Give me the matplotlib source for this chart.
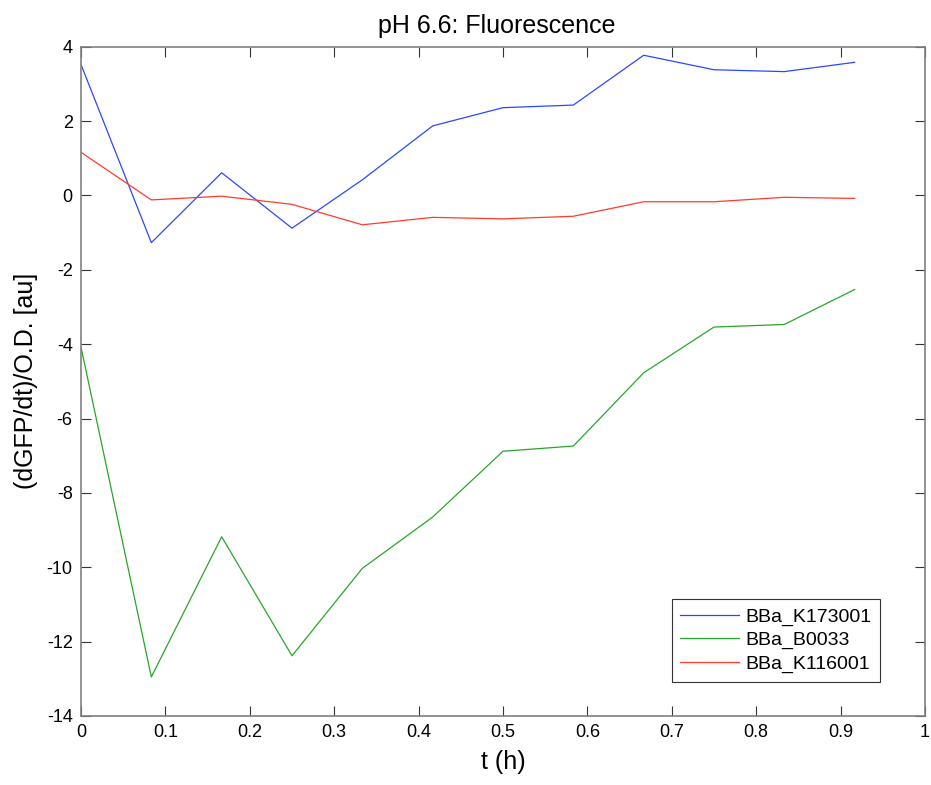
import numpy as np
import matplotlib
matplotlib.use("Agg")
import matplotlib.pyplot as plt

plt.rcParams['font.family'] = ['Liberation Sans', 'DejaVu Sans']
plt.rcParams['axes.unicode_minus'] = False

t = [0, 1/12, 2/12, 3/12, 4/12, 5/12, 6/12, 7/12, 8/12, 9/12, 10/12, 11/12]
k173001 = [3.52, -1.27, 0.61, -0.88, 0.42, 1.87, 2.36, 2.43, 3.77, 3.38, 3.33, 3.58]
b0033 = [-4.08, -12.95, -9.18, -12.38, -10.03, -8.65, -6.88, -6.74, -4.77, -3.54, -3.47, -2.53]
k116001 = [1.16, -0.12, -0.02, -0.24, -0.79, -0.59, -0.63, -0.56, -0.17, -0.17, -0.05, -0.08]

labels = ['BBa_K173001', 'BBa_B0033', 'BBa_K116001']
colors = ['#2a48ff', '#2aa52a', '#ff3b2b']

fig = plt.figure(figsize=(9.31, 7.85), dpi=100)
ax = fig.add_axes([81/931, 1-716/785, 844/931, (716-46.7)/785])

for y, lab, c in zip([k173001, b0033, k116001], labels, colors):
    ax.plot(t, y, color=c, lw=0.9, label=lab)

ax.set_xlim(0, 1)
ax.set_ylim(-14, 4)
ax.set_xticks(np.arange(0, 1.01, 0.1))
ax.set_xticklabels(['0', '0.1', '0.2', '0.3', '0.4', '0.5', '0.6', '0.7', '0.8', '0.9', '1'])
ax.set_yticks(np.arange(-14, 5, 2))
ax.tick_params(direction='in', top=True, right=True, length=7, labelsize=13, width=0.8, color='#333333', pad=6)
for s in ax.spines.values():
    s.set_color('#808080')
    s.set_linewidth(1.2)

ax.set_title('pH 6.6: Fluorescence', fontsize=18, pad=10, x=0.493)
ax.set_xlabel('t (h)', fontsize=18, labelpad=6)
ax.set_ylabel('(dGFP/dt)/O.D. [au]', fontsize=18, labelpad=6)

leg = ax.legend(loc='lower right', bbox_to_anchor=(0.947, 0.051), fontsize=14,
                frameon=True, fancybox=False, edgecolor='#333333', framealpha=1,
                handlelength=3.0, borderpad=0.45, labelspacing=0.3, handletextpad=0.35,
                borderaxespad=0)
leg.get_frame().set_linewidth(0.8)

fig.savefig('out.png', dpi=100)
